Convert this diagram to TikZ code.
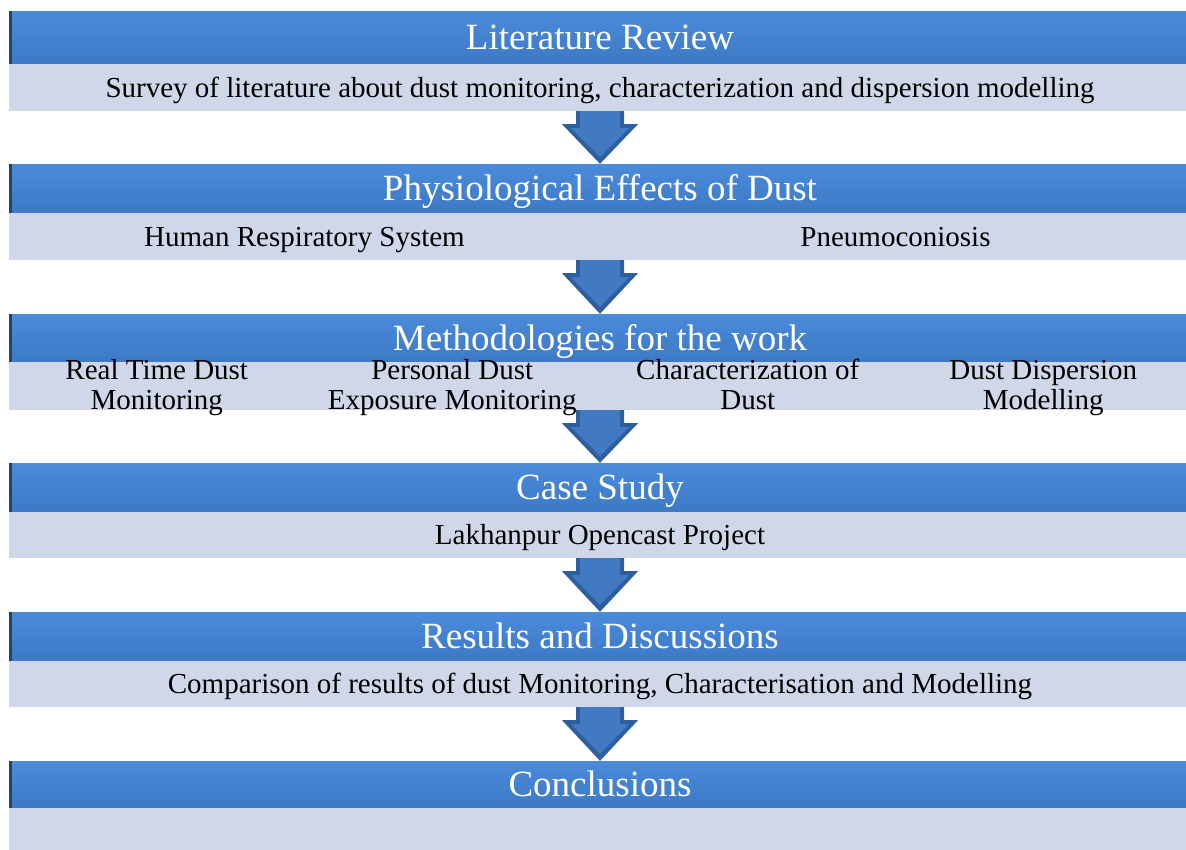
\documentclass[tikz,border=0pt]{standalone}
\usepackage{fontspec}
\setmainfont{Liberation Serif}
\usetikzlibrary{calc}

\definecolor{headtop}{HTML}{4A8BDA}
\definecolor{headbot}{HTML}{3D79C5}
\definecolor{headedge}{HTML}{23446F}
\definecolor{bodyfill}{HTML}{D0D7E8}
\definecolor{arrowedge}{HTML}{2F5E9E}
\definecolor{arrowface}{HTML}{4179C2}

\tikzset{
  head/.style={rectangle, minimum width=1182pt, inner sep=0pt,
    text height=33pt, text depth=9pt,
    top color=headtop, bottom color=headbot, text=white,
    font=\fontsize{37}{40}\selectfont,
    path picture={\fill[headedge] (path picture bounding box.north west)
      rectangle ([xshift=3pt]path picture bounding box.south west);}},
  body/.style={rectangle, minimum width=1182pt, inner sep=0pt,
    text height=26pt, text depth=7pt,
    fill=bodyfill, font=\fontsize{29}{30}\selectfont},
  item/.style={align=center, inner sep=0pt, text depth=3pt,
    font=\fontsize{29}{30}\selectfont},
  label/.style={inner sep=0pt, text height=26pt, text depth=7pt,
    font=\fontsize{29}{30}\selectfont}
}

% block arrow from the bottom of one band to the top of the next
\newcommand\bandarrow[2]{%
  \fill[arrowedge] ($(#1.south)+(-24,0)$) -- ($(#1.south)+(-24,13)$)
    -- ($(#1.south)+(-38,13)$) -- (#2.north) -- ($(#1.south)+(38,13)$)
    -- ($(#1.south)+(24,13)$) -- ($(#1.south)+(24,0)$) -- cycle;
  \fill[arrowface] ($(#1.south)+(-20,0)$) -- ($(#1.south)+(-20,17)$)
    -- ($(#1.south)+(-29,17)$) -- ($(#2.north)+(0,-7)$) -- ($(#1.south)+(29,17)$)
    -- ($(#1.south)+(20,17)$) -- ($(#1.south)+(20,0)$) -- cycle;}

\begin{document}
\begin{tikzpicture}[x=1pt, y=-1pt]
  \useasboundingbox (0,0) rectangle (1186,849);
  \clip (0,0) rectangle (1186,849);

  \node[head, minimum height=53pt] (h1) at (600,37.5) {Literature Review};
  \node[body, minimum height=47pt] (b1) at (600,87.5)
    {Survey of literature about dust monitoring, characterization and dispersion modelling};

  \node[head, minimum height=49pt] (h2) at (600,188.5) {Physiological Effects of Dust};
  \node[body, minimum height=47pt] (b2) at (600,236.5) {};
  \node[label] (resp) at (304.5,236.5) {Human Respiratory System};
  \node[label] (pneu) at (895.5,236.5) {Pneumoconiosis};

  \node[head, minimum height=48pt] (h3) at (600,338) {Methodologies for the work};
  \node[body, minimum height=48pt] (b3) at (600,386) {};
  \node[item] (rtdm) at (156.75,386) {Real Time Dust\\Monitoring};
  \node[item] (pdem) at (452.25,386) {Personal Dust\\Exposure Monitoring};
  \node[item] (char) at (747.75,386) {Characterization of\\Dust};
  \node[item] (disp) at (1043.25,386) {Dust Dispersion\\Modelling};

  \node[head, minimum height=49pt] (h4) at (600,487.5) {Case Study};
  \node[body, minimum height=46pt] (b4) at (600,535) {Lakhanpur Opencast Project};

  \node[head, minimum height=49pt] (h5) at (600,636.5) {Results and Discussions};
  \node[body, minimum height=46pt] (b5) at (600,684)
    {Comparison of results of dust Monitoring, Characterisation and Modelling};

  \node[head, minimum height=47pt] (h6) at (600,784.5) {Conclusions};
  \node[body, minimum height=44pt] (b6) at (600,830) {};

  \bandarrow{b1}{h2}
  \bandarrow{b2}{h3}
  \bandarrow{b3}{h4}
  \bandarrow{b4}{h5}
  \bandarrow{b5}{h6}
\end{tikzpicture}
\end{document}
